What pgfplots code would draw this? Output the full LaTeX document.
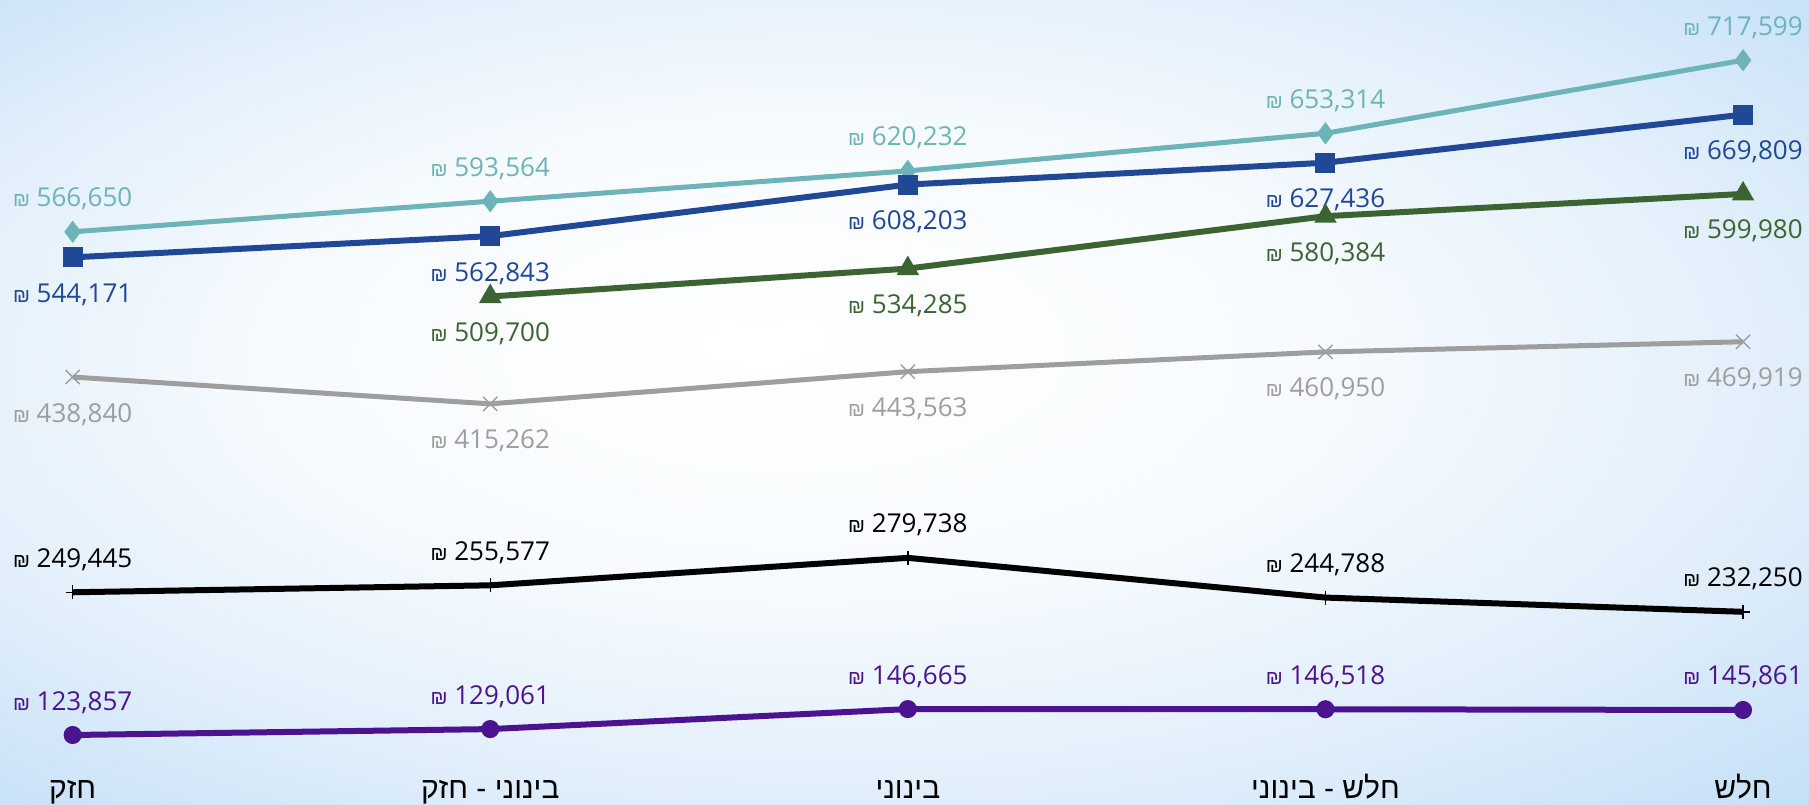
\documentclass[border=0pt]{standalone}
\usepackage{fontspec}
\setmainfont{Open Sans}
\newfontfamily\hebfont[Script=Hebrew]{Liberation Sans}
\TeXXeTstate=1
\usepackage{pgfplots}
\pgfplotsset{compat=1.18}

\definecolor{cteal}{RGB}{108,180,184}
\definecolor{cblue}{RGB}{33,72,150}
\definecolor{cgreen}{RGB}{60,100,50}
\definecolor{cgray}{RGB}{158,158,158}
\definecolor{cpurple}{RGB}{75,19,144}
\definecolor{bgA}{RGB}{247,251,254}
\definecolor{bgB}{RGB}{226,239,251}
\definecolor{bgC}{RGB}{188,219,245}

\pgfdeclareradialshading{bgshade}{\pgfpoint{-4bp}{4bp}}{%
  color(0bp)=(white); color(14bp)=(bgA); color(26bp)=(bgB);
  color(40bp)=(bgC); color(50bp)=(bgC)}

\newcommand{\shk}{{\hebfont\fontsize{10bp}{12bp}\selectfont ₪}}

\pgfplotsset{
  lab above/.style={every node near coord/.append style={anchor=base, yshift=12.5bp, text=#1}},
  lab below/.style={every node near coord/.append style={anchor=base, yshift=-22.5bp, text=#1}},
}

\begin{document}
\begin{tikzpicture}
\begin{axis}[
    scale only axis,
    width=904.5bp, height=402.5bp,
    xmin=-0.174, xmax=4.158,
    ymin=62259, ymax=770637,
    axis line style={draw=none},
    major tick length=0pt,
    ytick=\empty,
    xtick={0,1,2,3,4},
    xticklabels={
      {\beginR חזק\endR},
      {\beginR בינוני - חזק\endR},
      {\beginR בינוני\endR},
      {\beginR חלש - בינוני\endR},
      {\beginR חלש\endR}},
    xticklabel style={anchor=base, yshift=3.5bp, inner sep=0pt,
      font=\hebfont\fontsize{15bp}{18bp}\selectfont},
    axis background/.style={shading=bgshade},
    clip=false,
    /pgf/number format/.cd, fixed, precision=0, 1000 sep={,}, assume math mode=true,
    /pgfplots/.cd,
    nodes near coords={\shk\ \pgfmathprintnumber{\pgfplotspointmeta}},
    every node near coord/.append style={font=\fontsize{13bp}{15bp}\selectfont, inner sep=0pt},
]
% teal, diamonds
\addplot[cteal, line width=2.5bp, mark=diamond*, mark size=3.5bp, lab above=cteal] coordinates {
    (0,566650) (1,593564) (2,620232) (3,653314) (4,717599)};
% blue, squares
\addplot[cblue, line width=3bp, mark=square*, mark size=3.5bp, lab below=cblue] coordinates {
    (0,544171) (1,562843) (2,608203) (3,627436) (4,669809)};
% green, triangles
\addplot[cgreen, line width=3bp, mark=triangle*, mark size=3.5bp, lab below=cgreen] coordinates {
    (1,509700) (2,534285) (3,580384) (4,599980)};
% gray, crosses
\addplot[cgray, line width=2.5bp, mark=x, mark size=5bp, mark options={line width=0.7bp}, lab below=cgray] coordinates {
    (0,438840) (1,415262) (2,443563) (3,460950) (4,469919)};
% black, plus
\addplot[black, line width=3bp, mark=+, mark size=3.5bp, mark options={line width=0.7bp}, lab above=black] coordinates {
    (0,249445) (1,255577) (2,279738) (3,244788) (4,232250)};
% purple, circles
\addplot[cpurple, line width=3bp, mark=*, mark size=3bp, lab above=cpurple] coordinates {
    (0,123857) (1,129061) (2,146665) (3,146518) (4,145861)};
\end{axis}
\pgfresetboundingbox
\useasboundingbox (current axis.south west) rectangle (current axis.north east);
\end{tikzpicture}
\end{document}
